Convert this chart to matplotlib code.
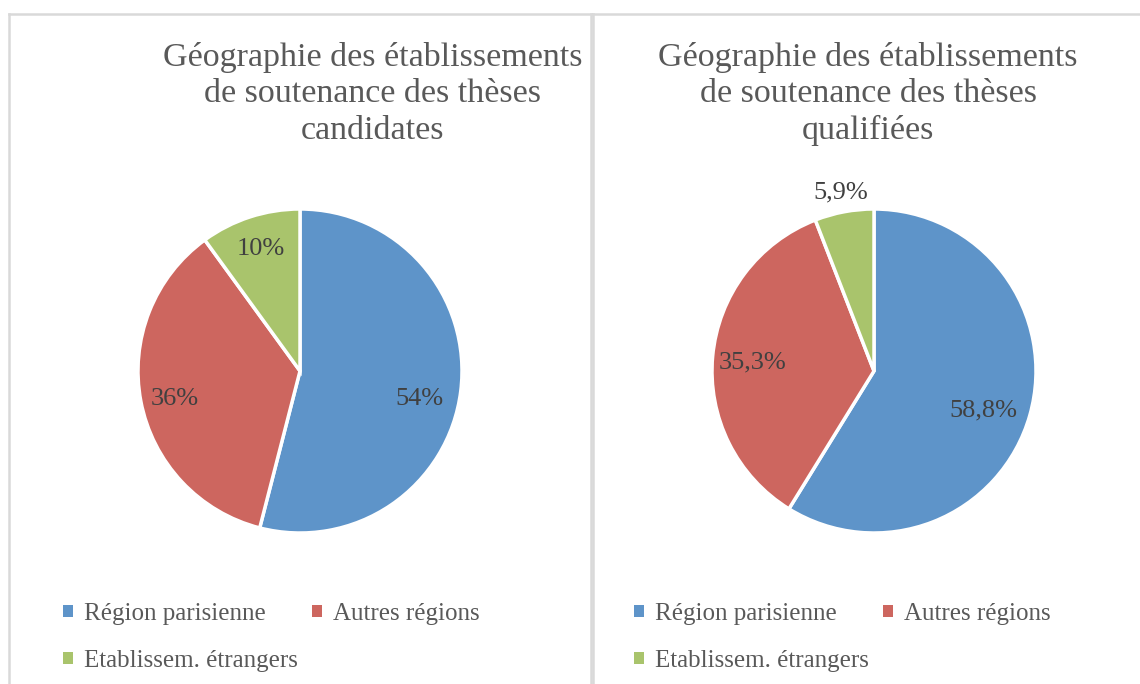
import numpy as np
import matplotlib
matplotlib.use("Agg")
import matplotlib.pyplot as plt
from matplotlib.patches import Patch
from matplotlib.lines import Line2D

categories = ["Région parisienne", "Autres régions", "Etablissem. étrangers"]
candidates = [54, 36, 10]
candidates_labels = ["54%", "36%", "10%"]
qualified = [58.8, 35.3, 5.9]
qualified_labels = ["58,8%", "35,3%", "5,9%"]
title_left = "Géographie des établissements\nde soutenance des thèses\ncandidates"
title_right = "Géographie des établissements\nde soutenance des thèses\nqualifiées"

colors = ["#5E94C9", "#CD665F", "#A9C46C"]
FONT = "Liberation Serif"
W, H = 1140, 684

fig = plt.figure(figsize=(W / 100, H / 100), dpi=100)
fig.patch.set_facecolor("white")

# panel borders
bc = "#D9D9D9"
for xs, ys in [([9, 9], [14, 684]), ([9, 591], [14, 14]), ([591, 591], [14, 684]),
               ([593, 593], [14, 684]), ([593, 1140], [14, 14])]:
    fig.add_artist(Line2D([x / W for x in xs], [1 - y / H for y in ys],
                          color=bc, lw=1.8, transform=fig.transFigure))

def draw_pie(cx, cy, r, values, labels, dists, title, tcx, leg_x):
    ax = fig.add_axes([(cx - r) / W, (H - cy - r) / H, 2 * r / W, 2 * r / H])
    wedges, _ = ax.pie(values, colors=colors, startangle=90, counterclock=False,
                       radius=1, wedgeprops=dict(edgecolor="white", linewidth=2.5))
    ax.set_xlim(-1, 1)
    ax.set_ylim(-1, 1)
    ax.axis("off")
    for w, lab, d in zip(wedges, labels, dists):
        ang = np.deg2rad((w.theta1 + w.theta2) / 2 + d[1])
        ax.text(d[0] * np.cos(ang), d[0] * np.sin(ang),
                lab, ha="center", va="center", fontsize=19, family=FONT, color="#404040")
    fig.text(tcx / W, 1 - 42 / H, title, ha="center", va="top", fontsize=24.5,
             family=FONT, color="#595959", linespacing=1.25)
    handles = [Patch(facecolor=c, edgecolor="none") for c in colors]
    order = [0, 2, 1]
    fig.legend([handles[i] for i in order], [categories[i] for i in order], loc="upper left",
               bbox_to_anchor=(leg_x / W, 1 - 603 / H), ncol=2, frameon=False,
               prop=dict(family=FONT, size=18), labelcolor="#595959",
               handlelength=0.4, handleheight=0.4, handletextpad=0.45,
               columnspacing=0.55, labelspacing=1.0, borderaxespad=0, borderpad=0)

draw_pie(300, 371, 162, candidates, candidates_labels,
         [(0.76, -6), (0.79, 2), (0.79, 0)], title_left, 373, 63)
draw_pie(874, 371, 162, qualified, qualified_labels,
         [(0.72, -4), (0.75, 1), (1.12, 0)], title_right, 868, 634)

fig.savefig("out.png", dpi=100, facecolor="white")
